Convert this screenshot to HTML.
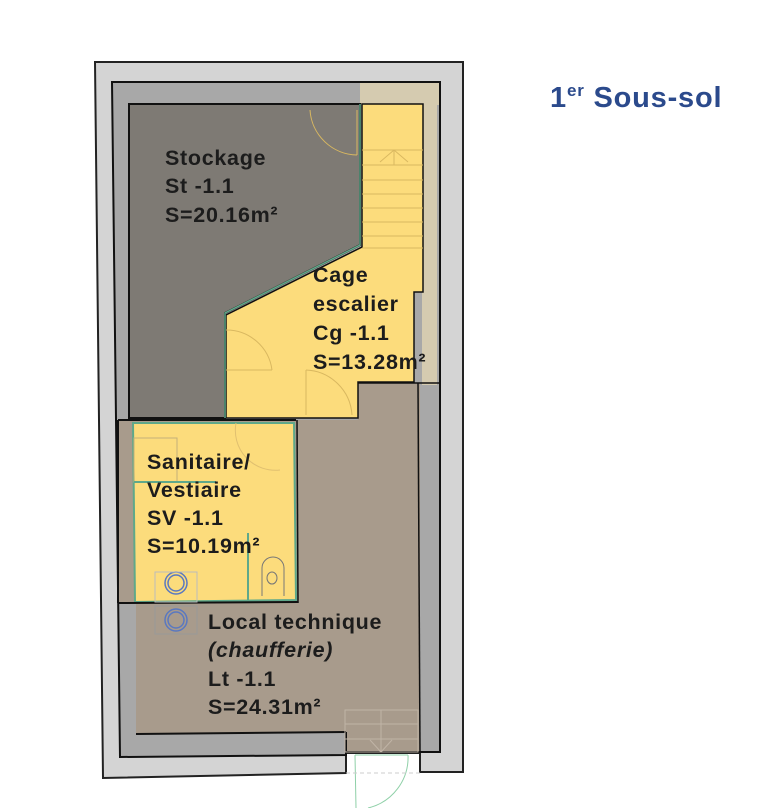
<!DOCTYPE html>
<html><head><meta charset="utf-8"><style>
html,body{margin:0;padding:0;background:#fff;width:782px;height:808px;overflow:hidden}
svg{display:block}
text{font-family:"Liberation Sans",Arial,sans-serif;font-weight:bold}
</style></head><body>
<svg width="782" height="808" viewBox="0 0 782 808">
<polygon points="95,62 463,62 463,772 420,772 420,753 346,753 346,773 103,778" fill="#d4d4d4" stroke="#222" stroke-width="2"/>
<polygon points="112,82 440,82 440,752 346,752 346,755 120,757" fill="#a8a8a8" stroke="#111" stroke-width="2"/>
<rect x="360" y="83" width="79" height="22" fill="#d5cbb0"/>
<rect x="422" y="83" width="15" height="302" fill="#d5cbb0"/>
<polygon points="118,420 420,420 420,752 346,752 346,732 136,734 136,603 118,603" fill="#a89b8c"/>
<polygon points="358,383 420,383 420,420 358,420" fill="#a89b8c"/>
<line x1="136" y1="734" x2="346" y2="732" stroke="#111" stroke-width="2"/>
<line x1="346" y1="732" x2="346" y2="753" stroke="#111" stroke-width="2"/>
<line x1="346" y1="752" x2="440" y2="752" stroke="#111" stroke-width="2"/>
<line x1="418" y1="383" x2="420" y2="752" stroke="#111" stroke-width="1.5"/>
<line x1="358" y1="383" x2="440" y2="383" stroke="#111" stroke-width="1.5"/>
<polygon points="129,104 360,104 360,245 225,313 225,418 129,418" fill="#7e7a74" stroke="#111" stroke-width="2"/>
<polygon points="362,104 423,104 423,292 414,292 414,382 358,382 358,418 226,418 226,315 362,247" fill="#fcdc7c" stroke="#111" stroke-width="1.5"/>
<polyline points="360,104 360,245 225,313 225,418" fill="none" stroke="#5fa88a" stroke-width="1.5"/>
<g stroke="#d9b860" stroke-width="1" fill="none">
<line x1="362" y1="150" x2="423" y2="150"/><line x1="362" y1="165" x2="423" y2="165"/>
<line x1="362" y1="180" x2="423" y2="180"/><line x1="362" y1="194" x2="423" y2="194"/>
<line x1="362" y1="208" x2="423" y2="208"/><line x1="362" y1="222" x2="423" y2="222"/>
<line x1="362" y1="236" x2="423" y2="236"/><line x1="362" y1="248" x2="423" y2="248"/>
<polyline points="380,162 394,150 408,162"/><line x1="394" y1="150" x2="394" y2="165"/>
<path d="M310,110 A48,48 0 0 0 357,155"/><line x1="357" y1="110" x2="357" y2="155"/>
<path d="M226,330 A46,46 0 0 1 272,370"/><line x1="226" y1="370" x2="272" y2="370"/>
<path d="M306,370 A48,48 0 0 1 352,415"/><line x1="306" y1="370" x2="306" y2="415"/>
</g>
<line x1="118" y1="420" x2="296" y2="420" stroke="#111" stroke-width="2"/>
<line x1="118" y1="420" x2="118" y2="603" stroke="#111" stroke-width="2"/>
<polygon points="133,423 294,423 296,600 135,602" fill="#fcdc7c" stroke="#5fa88a" stroke-width="2"/>
<line x1="297" y1="420" x2="298" y2="603" stroke="#111" stroke-width="1.5"/>
<line x1="118" y1="603" x2="298" y2="602" stroke="#111" stroke-width="2"/>
<line x1="248" y1="533" x2="248" y2="600" stroke="#5fa88a" stroke-width="2"/>
<rect x="134" y="438" width="43" height="44" fill="none" stroke="#c4b07a" stroke-width="1"/>
<line x1="134" y1="482" x2="216" y2="482" stroke="#5fa88a" stroke-width="2"/>
<path d="M236,423 A40,40 0 0 0 280,470" fill="none" stroke="#e0c070" stroke-width="1"/>
<g fill="none" stroke="#5a78c0" stroke-width="1.5">
<ellipse cx="176" cy="583" rx="11" ry="11"/><ellipse cx="176" cy="583" rx="8" ry="8"/>
<ellipse cx="176" cy="620" rx="11" ry="11"/><ellipse cx="176" cy="620" rx="8" ry="8"/>
</g>
<rect x="155" y="572" width="42" height="30" fill="none" stroke="#bbb" stroke-width="1"/>
<rect x="155" y="606" width="42" height="28" fill="none" stroke="#999" stroke-width="1"/>
<path d="M262,596 L262,568 A11,11 0 0 1 284,568 L284,596" fill="none" stroke="#777" stroke-width="1"/>
<ellipse cx="272" cy="578" rx="5" ry="6" fill="none" stroke="#777" stroke-width="1"/>
<g stroke="#c0b4a6" stroke-width="1" fill="none">
<rect x="345" y="710" width="73" height="42"/>
<line x1="345" y1="724" x2="418" y2="724"/><line x1="345" y1="739" x2="418" y2="739"/>
<line x1="381" y1="710" x2="381" y2="752"/>
<polyline points="370,740 381,752 392,740"/>
</g>
<g stroke="#8fd0a8" stroke-width="1" fill="none">
<line x1="355" y1="755" x2="408" y2="755"/>
<line x1="355" y1="755" x2="356" y2="808"/>
<path d="M408,755 A52,52 0 0 1 368,808"/>
<line x1="346" y1="773" x2="420" y2="773" stroke-dasharray="4,3" stroke="#ccc"/>
</g>
<g font-size="21.5" fill="#1c1c1c" letter-spacing="0.7">
<text x="165" y="165">Stockage</text>
<text x="165" y="193">St -1.1</text>
<text x="165" y="222">S=20.16m²</text>
<text x="313" y="282">Cage</text>
<text x="313" y="311">escalier</text>
<text x="313" y="340">Cg -1.1</text>
<text x="313" y="369">S=13.28m²</text>
<text x="147" y="469">Sanitaire/</text>
<text x="147" y="497">Vestiaire</text>
<text x="147" y="525">SV -1.1</text>
<text x="147" y="553">S=10.19m²</text>
<text x="208" y="629">Local technique</text>
<text x="208" y="657" font-style="italic">(chaufferie)</text>
<text x="208" y="686">Lt -1.1</text>
<text x="208" y="714">S=24.31m²</text>
</g>
<text x="550" y="107" font-size="29" fill="#2b4a8c" letter-spacing="0.8">1<tspan font-size="17" dy="-11">er</tspan><tspan dy="11"> Sous-sol</tspan></text>
</svg>
</body></html>
